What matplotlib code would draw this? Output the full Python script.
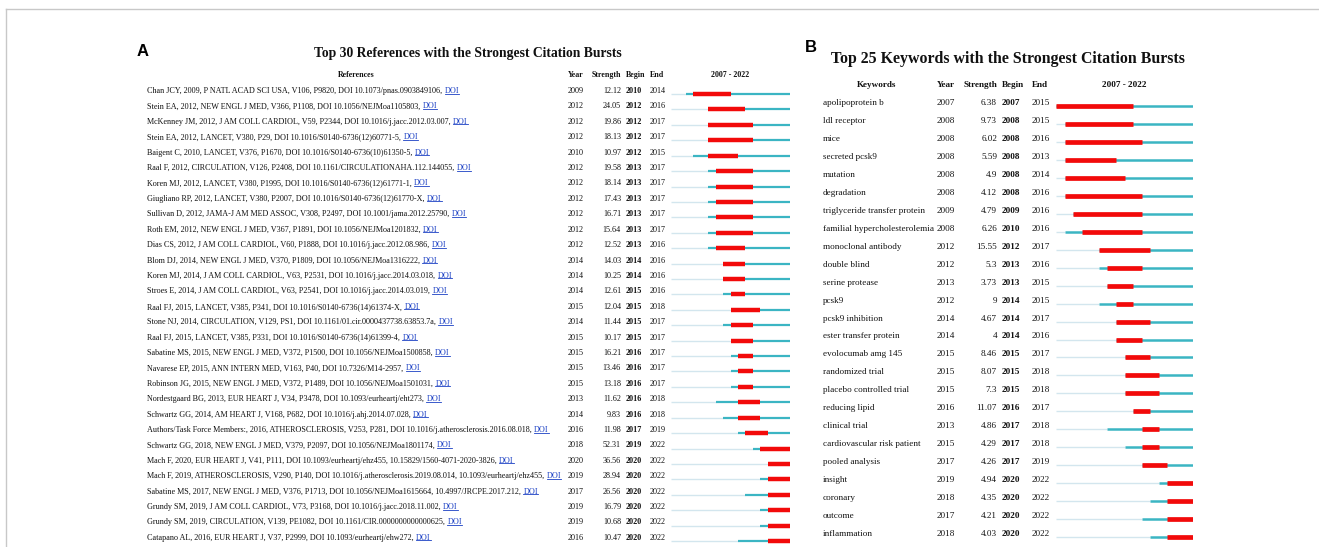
import matplotlib
matplotlib.use("Agg")
import matplotlib.pyplot as plt
from matplotlib.lines import Line2D
from matplotlib.transforms import blended_transform_factory

# ---------------- data ----------------
ref_labels = [
    "Chan JCY, 2009, P NATL ACAD SCI USA, V106, P9820, DOI 10.1073/pnas.0903849106,",
    "Stein EA, 2012, NEW ENGL J MED, V366, P1108, DOI 10.1056/NEJMoa1105803,",
    "McKenney JM, 2012, J AM COLL CARDIOL, V59, P2344, DOI 10.1016/j.jacc.2012.03.007,",
    "Stein EA, 2012, LANCET, V380, P29, DOI 10.1016/S0140-6736(12)60771-5,",
    "Baigent C, 2010, LANCET, V376, P1670, DOI 10.1016/S0140-6736(10)61350-5,",
    "Raal F, 2012, CIRCULATION, V126, P2408, DOI 10.1161/CIRCULATIONAHA.112.144055,",
    "Koren MJ, 2012, LANCET, V380, P1995, DOI 10.1016/S0140-6736(12)61771-1,",
    "Giugliano RP, 2012, LANCET, V380, P2007, DOI 10.1016/S0140-6736(12)61770-X,",
    "Sullivan D, 2012, JAMA-J AM MED ASSOC, V308, P2497, DOI 10.1001/jama.2012.25790,",
    "Roth EM, 2012, NEW ENGL J MED, V367, P1891, DOI 10.1056/NEJMoa1201832,",
    "Dias CS, 2012, J AM COLL CARDIOL, V60, P1888, DOI 10.1016/j.jacc.2012.08.986,",
    "Blom DJ, 2014, NEW ENGL J MED, V370, P1809, DOI 10.1056/NEJMoa1316222,",
    "Koren MJ, 2014, J AM COLL CARDIOL, V63, P2531, DOI 10.1016/j.jacc.2014.03.018,",
    "Stroes E, 2014, J AM COLL CARDIOL, V63, P2541, DOI 10.1016/j.jacc.2014.03.019,",
    "Raal FJ, 2015, LANCET, V385, P341, DOI 10.1016/S0140-6736(14)61374-X,",
    "Stone NJ, 2014, CIRCULATION, V129, PS1, DOI 10.1161/01.cir.0000437738.63853.7a,",
    "Raal FJ, 2015, LANCET, V385, P331, DOI 10.1016/S0140-6736(14)61399-4,",
    "Sabatine MS, 2015, NEW ENGL J MED, V372, P1500, DOI 10.1056/NEJMoa1500858,",
    "Navarese EP, 2015, ANN INTERN MED, V163, P40, DOI 10.7326/M14-2957,",
    "Robinson JG, 2015, NEW ENGL J MED, V372, P1489, DOI 10.1056/NEJMoa1501031,",
    "Nordestgaard BG, 2013, EUR HEART J, V34, P3478, DOI 10.1093/eurheartj/eht273,",
    "Schwartz GG, 2014, AM HEART J, V168, P682, DOI 10.1016/j.ahj.2014.07.028,",
    "Authors/Task Force Members:, 2016, ATHEROSCLEROSIS, V253, P281, DOI 10.1016/j.atherosclerosis.2016.08.018,",
    "Schwartz GG, 2018, NEW ENGL J MED, V379, P2097, DOI 10.1056/NEJMoa1801174,",
    "Mach F, 2020, EUR HEART J, V41, P111, DOI 10.1093/eurheartj/ehz455, 10.15829/1560-4071-2020-3826,",
    "Mach F, 2019, ATHEROSCLEROSIS, V290, P140, DOI 10.1016/j.atherosclerosis.2019.08.014, 10.1093/eurheartj/ehz455,",
    "Sabatine MS, 2017, NEW ENGL J MED, V376, P1713, DOI 10.1056/NEJMoa1615664, 10.4997/JRCPE.2017.212,",
    "Grundy SM, 2019, J AM COLL CARDIOL, V73, P3168, DOI 10.1016/j.jacc.2018.11.002,",
    "Grundy SM, 2019, CIRCULATION, V139, PE1082, DOI 10.1161/CIR.0000000000000625,",
    "Catapano AL, 2016, EUR HEART J, V37, P2999, DOI 10.1093/eurheartj/ehw272,",
]
ref_year = [2009, 2012, 2012, 2012, 2010, 2012, 2012, 2012, 2012, 2012, 2012, 2014, 2014, 2014, 2015,
            2014, 2015, 2015, 2015, 2015, 2013, 2014, 2016, 2018, 2020, 2019, 2017, 2019, 2019, 2016]
ref_strength = ["12.12", "24.05", "19.86", "18.13", "10.97", "19.58", "18.14", "17.43", "16.71", "15.64",
                "12.52", "14.03", "10.25", "12.61", "12.04", "11.44", "10.17", "16.21", "13.46", "13.18",
                "11.62", "9.83", "11.98", "52.31", "36.56", "28.94", "26.56", "16.79", "10.68", "10.47"]
ref_begin = [2010, 2012, 2012, 2012, 2012, 2013, 2013, 2013, 2013, 2013, 2013, 2014, 2014, 2015, 2015,
             2015, 2015, 2016, 2016, 2016, 2016, 2016, 2017, 2019, 2020, 2020, 2020, 2020, 2020, 2020]
ref_end = [2014, 2016, 2017, 2017, 2015, 2017, 2017, 2017, 2017, 2017, 2016, 2016, 2016, 2016, 2018,
           2017, 2017, 2017, 2017, 2017, 2018, 2018, 2019, 2022, 2022, 2022, 2022, 2022, 2022, 2022]

kw_labels = ["apolipoprotein b", "ldl receptor", "mice", "secreted pcsk9", "mutation", "degradation",
             "triglyceride transfer protein", "familial hypercholesterolemia", "monoclonal antibody",
             "double blind", "serine protease", "pcsk9", "pcsk9 inhibition", "ester transfer protein",
             "evolocumab amg 145", "randomized trial", "placebo controlled trial", "reducing lipid",
             "clinical trial", "cardiovascular risk patient", "pooled analysis", "insight", "coronary",
             "outcome", "inflammation"]
kw_year = [2007, 2008, 2008, 2008, 2008, 2008, 2009, 2008, 2012, 2012, 2013, 2012, 2014, 2014, 2015,
           2015, 2015, 2016, 2013, 2015, 2017, 2019, 2018, 2017, 2018]
kw_strength = ["6.38", "9.73", "6.02", "5.59", "4.9", "4.12", "4.79", "6.26", "15.55", "5.3", "3.73", "9",
               "4.67", "4", "8.46", "8.07", "7.3", "11.07", "4.86", "4.29", "4.26", "4.94", "4.35",
               "4.21", "4.03"]
kw_begin = [2007, 2008, 2008, 2008, 2008, 2008, 2009, 2010, 2012, 2013, 2013, 2014, 2014, 2014, 2015,
            2015, 2015, 2016, 2017, 2017, 2017, 2020, 2020, 2020, 2020]
kw_end = [2015, 2015, 2016, 2013, 2014, 2016, 2016, 2016, 2017, 2016, 2015, 2015, 2017, 2016, 2017,
          2018, 2018, 2017, 2018, 2018, 2019, 2022, 2022, 2022, 2022]

year_start, year_stop = 2007, 2022

# ---------------- style ----------------
W, H = 1319, 547
RED = "#F20A0A"
TEAL = "#3BB5C3"
PALE = "#D3E6EE"
LINK = "#1A3FC4"
SERIF = ["Liberation Serif", "DejaVu Serif"]
FS_A = 5.9
FS_B = 6.6

fig = plt.figure(figsize=(W / 100, H / 100), dpi=100)
fig.patch.set_facecolor("white")

def fx(px):
    return px / W

def fy(py):
    return 1 - py / H

# outer frame lines
fig.add_artist(Line2D([fx(6), fx(6)], [fy(9), 0], color="#C8C8C8", lw=1.0, transform=fig.transFigure))
fig.add_artist(Line2D([fx(6), 1], [fy(9), fy(9)], color="#C8C8C8", lw=1.0, transform=fig.transFigure))

doi_texts = []

def panel(labels, years, strengths, begins, ends, row0, step, cols, tl_x0, tl_x1,
          fs, hfs, header_y, header_label, lw_pale, lw_teal, lw_red, line_off, doi):
    n = len(labels)
    top = row0 - step / 2
    bottom = row0 + step * (n - 1) + step / 2
    ax = fig.add_axes([fx(tl_x0), fy(bottom), fx(tl_x1) - fx(tl_x0), (bottom - top) / H])
    ax.set_xlim(year_start, year_stop + 1)
    ax.set_ylim(n - 0.5, -0.5)
    ax.axis("off")
    tr = blended_transform_factory(fig.transFigure, ax.transData)
    for i in range(n):
        y = i + line_off
        ax.hlines(y, year_start, years[i], color=PALE, lw=lw_pale)
        ax.hlines(y, years[i], year_stop + 1, color=TEAL, lw=lw_teal)
        ax.hlines(y, begins[i], ends[i] + 1, color=RED, lw=lw_red)
        t = ax.text(fx(cols["label"]), i, labels[i], transform=tr, ha="left", va="center",
                    fontsize=fs, family=SERIF, color="#111111")
        if doi:
            doi_texts.append((t, ax, i))
        ax.text(fx(cols["year"]), i, str(years[i]), transform=tr, ha="left", va="center",
                fontsize=fs, family=SERIF, color="#111111")
        ax.text(fx(cols["strength"]), i, strengths[i], transform=tr, ha="right", va="center",
                fontsize=fs, family=SERIF, color="#111111")
        ax.text(fx(cols["begin"]), i, str(begins[i]), transform=tr, ha="left", va="center",
                fontsize=fs, family=SERIF, color="#111111", fontweight="bold")
        ax.text(fx(cols["end"]), i, str(ends[i]), transform=tr, ha="left", va="center",
                fontsize=fs, family=SERIF, color="#111111")
    # header
    hy = fy(header_y)
    kw = dict(transform=fig.transFigure, va="center", fontsize=hfs, family=SERIF,
              fontweight="bold", color="#111111")
    fig.text(fx(cols["header_label"]), hy, header_label, ha="center", **kw)
    fig.text(fx(cols["year"]), hy, "Year", ha="left", **kw)
    fig.text(fx(cols["strength"]), hy, "Strength", ha="right", **kw)
    fig.text(fx(cols["begin"]), hy, "Begin", ha="left", **kw)
    fig.text(fx(cols["end"]), hy, "End", ha="left", **kw)
    fig.text(fx((tl_x0 + tl_x1) / 2), hy, f"{year_start} - {year_stop}", ha="center", **kw)
    return ax

# Panel A
colsA = dict(label=147, header_label=356, year=568, strength=621, begin=626, end=650)
panel(ref_labels, ref_year, ref_strength, ref_begin, ref_end, row0=91, step=15.41, cols=colsA,
      tl_x0=671, tl_x1=790, fs=FS_A, hfs=5.7, header_y=75, header_label="References",
      lw_pale=1.0, lw_teal=1.6, lw_red=3.2, line_off=0.2, doi=True)
fig.text(fx(468), fy(53), "Top 30 References with the Strongest Citation Bursts", ha="center",
         va="center", fontsize=9.8, family=SERIF, fontweight="bold", color="#111111")
fig.text(fx(143), fy(51), "A", ha="center", va="center", fontsize=12, family="Liberation Sans",
         fontweight="bold", color="black")

# Panel B
colsB = dict(label=823, header_label=877, year=937, strength=997, begin=1002, end=1032)
panel(kw_labels, kw_year, kw_strength, kw_begin, kw_end, row0=103, step=17.96, cols=colsB,
      tl_x0=1056, tl_x1=1193, fs=FS_B, hfs=6.6, header_y=85, header_label="Keywords",
      lw_pale=1.0, lw_teal=1.8, lw_red=3.4, line_off=0.17, doi=False)
fig.text(fx(1008), fy(59), "Top 25 Keywords with the Strongest Citation Bursts", ha="center",
         va="center", fontsize=11.4, family=SERIF, fontweight="bold", color="#111111")
fig.text(fx(811), fy(47), "B", ha="center", va="center", fontsize=12, family="Liberation Sans",
         fontweight="bold", color="black")

# DOI links after reference text
fig.canvas.draw()
renderer = fig.canvas.get_renderer()
inv = fig.transFigure.inverted()
links = []
for t, ax, i in doi_texts:
    bb = t.get_window_extent(renderer).transformed(inv)
    tr = blended_transform_factory(fig.transFigure, ax.transData)
    d = ax.text(bb.x1 + 2.5 / W, i, "DOI", transform=tr, ha="left", va="center",
                fontsize=FS_A, family=SERIF, color=LINK)
    links.append(d)
fig.canvas.draw()
for d in links:
    bb = d.get_window_extent(renderer).transformed(inv)
    yu = bb.y0 + 0.18 * bb.height
    fig.add_artist(Line2D([bb.x0, bb.x1], [yu, yu], color=LINK, lw=0.6, transform=fig.transFigure))

fig.savefig("out.png", dpi=100)
